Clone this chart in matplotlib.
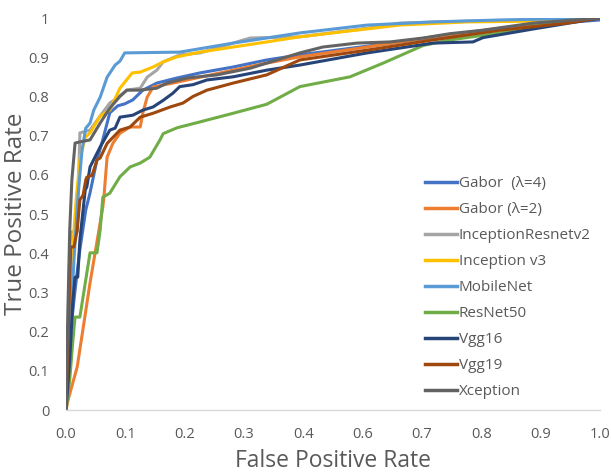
import matplotlib
matplotlib.use("Agg")
import matplotlib.pyplot as plt
import numpy as np

plt.rcParams["font.family"] = ["Open Sans", "DejaVu Sans"]

GREY_TEXT = "#595959"

# ROC curves (fpr, tpr)
gabor4_fpr = [0.000, 0.007, 0.017, 0.026, 0.037, 0.045, 0.049, 0.058, 0.069, 0.082, 0.097, 0.110, 0.125, 0.144, 0.170, 0.208, 0.251, 0.313, 0.376, 0.438, 0.625, 0.751, 0.875, 1.000]
gabor4_tpr = [0.000, 0.179, 0.306, 0.409, 0.510, 0.554, 0.580, 0.638, 0.690, 0.758, 0.776, 0.781, 0.791, 0.816, 0.834, 0.847, 0.860, 0.875, 0.893, 0.906, 0.939, 0.962, 0.982, 0.995]

gabor2_fpr = [0.000, 0.004, 0.021, 0.045, 0.069, 0.071, 0.077, 0.088, 0.101, 0.120, 0.139, 0.144, 0.152, 0.163, 0.200, 0.251, 0.313, 0.376, 0.438, 0.564, 0.687, 0.813, 0.938, 1.000]
gabor2_tpr = [0.000, 0.026, 0.110, 0.324, 0.518, 0.543, 0.645, 0.681, 0.706, 0.722, 0.722, 0.758, 0.798, 0.824, 0.834, 0.849, 0.867, 0.885, 0.901, 0.926, 0.952, 0.974, 0.990, 1.000]

incres_fpr = [0.000, 0.007, 0.009, 0.021, 0.026, 0.045, 0.064, 0.082, 0.096, 0.114, 0.139, 0.152, 0.170, 0.182, 0.213, 0.251, 0.313, 0.345, 0.438, 0.564, 0.625, 0.751, 0.875, 1.000]
incres_tpr = [0.000, 0.400, 0.454, 0.454, 0.707, 0.714, 0.750, 0.783, 0.796, 0.816, 0.821, 0.849, 0.867, 0.888, 0.906, 0.911, 0.936, 0.949, 0.952, 0.974, 0.987, 0.992, 0.995, 1.000]

incv3_fpr = [0.000, 0.006, 0.011, 0.019, 0.026, 0.036, 0.045, 0.064, 0.082, 0.101, 0.124, 0.139, 0.163, 0.182, 0.208, 0.251, 0.313, 0.376, 0.438, 0.500, 0.625, 0.751, 0.875, 1.000]
incv3_tpr = [0.000, 0.204, 0.383, 0.536, 0.638, 0.696, 0.707, 0.750, 0.765, 0.821, 0.860, 0.862, 0.875, 0.888, 0.901, 0.913, 0.926, 0.939, 0.952, 0.962, 0.982, 0.990, 0.992, 1.000]

mobile_fpr = [0.000, 0.004, 0.009, 0.015, 0.022, 0.030, 0.037, 0.045, 0.052, 0.064, 0.077, 0.092, 0.101, 0.110, 0.213, 0.313, 0.438, 0.564, 0.687, 0.813, 1.000]
mobile_tpr = [0.000, 0.102, 0.230, 0.383, 0.536, 0.663, 0.719, 0.732, 0.765, 0.798, 0.849, 0.880, 0.890, 0.911, 0.913, 0.936, 0.962, 0.982, 0.990, 0.995, 1.000]

resnet_fpr = [0.000, 0.007, 0.013, 0.017, 0.026, 0.034, 0.045, 0.058, 0.064, 0.069, 0.082, 0.101, 0.120, 0.139, 0.157, 0.176, 0.182, 0.208, 0.251, 0.313, 0.376, 0.438, 0.532, 0.594, 0.669, 0.719, 0.813, 0.906, 1.000]
resnet_tpr = [0.000, 0.077, 0.179, 0.237, 0.237, 0.306, 0.401, 0.401, 0.459, 0.543, 0.553, 0.595, 0.620, 0.630, 0.645, 0.689, 0.705, 0.720, 0.735, 0.757, 0.780, 0.825, 0.850, 0.885, 0.930, 0.944, 0.962, 0.987, 1.000]

vgg16_fpr = [0.000, 0.007, 0.013, 0.017, 0.022, 0.026, 0.032, 0.036, 0.039, 0.045, 0.064, 0.082, 0.092, 0.101, 0.125, 0.144, 0.163, 0.182, 0.200, 0.213, 0.238, 0.264, 0.313, 0.376, 0.438, 0.564, 0.687, 0.762, 0.781, 0.875, 1.000]
vgg16_tpr = [0.000, 0.128, 0.281, 0.339, 0.339, 0.434, 0.510, 0.561, 0.569, 0.620, 0.671, 0.714, 0.719, 0.747, 0.752, 0.765, 0.773, 0.790, 0.808, 0.825, 0.830, 0.842, 0.850, 0.867, 0.880, 0.911, 0.936, 0.939, 0.950, 0.972, 1.000]

vgg19_fpr = [0.000, 0.004, 0.007, 0.009, 0.015, 0.021, 0.026, 0.032, 0.037, 0.039, 0.049, 0.058, 0.064, 0.077, 0.101, 0.120, 0.139, 0.163, 0.195, 0.219, 0.238, 0.264, 0.313, 0.376, 0.438, 0.564, 0.687, 0.813, 0.938, 1.000]
vgg19_tpr = [0.000, 0.179, 0.332, 0.416, 0.416, 0.459, 0.536, 0.548, 0.587, 0.594, 0.599, 0.638, 0.643, 0.680, 0.714, 0.722, 0.747, 0.757, 0.773, 0.783, 0.800, 0.816, 0.834, 0.855, 0.893, 0.918, 0.944, 0.969, 0.987, 1.000]

xcept_fpr = [0.000, 0.004, 0.007, 0.011, 0.017, 0.026, 0.045, 0.064, 0.082, 0.101, 0.114, 0.139, 0.170, 0.189, 0.227, 0.283, 0.345, 0.438, 0.481, 0.545, 0.607, 0.669, 0.719, 0.781, 0.875, 1.000]
xcept_tpr = [0.000, 0.281, 0.459, 0.587, 0.681, 0.684, 0.689, 0.732, 0.770, 0.800, 0.816, 0.816, 0.821, 0.834, 0.847, 0.855, 0.872, 0.911, 0.926, 0.936, 0.939, 0.949, 0.960, 0.969, 0.987, 1.000]

SERIES = [
    ("Gabor  (\u03bb=4)", gabor4_fpr, gabor4_tpr, "#4472C4"),
    ("Gabor (\u03bb=2)", gabor2_fpr, gabor2_tpr, "#ED7D31"),
    ("InceptionResnetv2", incres_fpr, incres_tpr, "#A5A5A5"),
    ("Inception v3", incv3_fpr, incv3_tpr, "#FFC000"),
    ("MobileNet", mobile_fpr, mobile_tpr, "#5B9BD5"),
    ("ResNet50", resnet_fpr, resnet_tpr, "#70AD47"),
    ("Vgg16", vgg16_fpr, vgg16_tpr, "#264478"),
    ("Vgg19", vgg19_fpr, vgg19_tpr, "#9E480E"),
    ("Xception", xcept_fpr, xcept_tpr, "#636363"),
]

x_tick_labels = ["0.0", "0.1", "0.2", "0.3", "0.4", "0.6", "0.7", "0.8", "0.9", "1.0"]
y_ticks = [0, 0.1, 0.2, 0.3, 0.4, 0.5, 0.6, 0.7, 0.8, 0.9, 1]
y_tick_labels = ["0", "0.1", "0.2", "0.3", "0.4", "0.5", "0.6", "0.7", "0.8", "0.9", "1"]


def main():
    fig = plt.figure(figsize=(6.11, 4.74), dpi=100)
    ax = fig.add_axes([0.108, 0.135, 0.874, 0.827])

    for label, fpr, tpr, color in SERIES:
        ax.plot(fpr, tpr, color=color, lw=2.2, label=label, solid_joinstyle="round")

    ax.set_xlim(0, 1)
    ax.set_ylim(0, 1)
    ax.set_xticks(np.linspace(0, 1, len(x_tick_labels)))
    ax.set_xticklabels(x_tick_labels)
    ax.set_yticks(y_ticks)
    ax.set_yticklabels(y_tick_labels)
    ax.tick_params(axis="x", length=0, labelsize=10.5, labelcolor=GREY_TEXT, pad=12)
    ax.tick_params(axis="y", length=0, labelsize=10.5, labelcolor=GREY_TEXT, pad=12)

    for side in ["top", "right", "left"]:
        ax.spines[side].set_visible(False)
    ax.spines["bottom"].set_color("#D9D9D9")
    ax.spines["bottom"].set_linewidth(1.0)

    ax.set_xlabel("False Positive Rate", fontsize=16.5, color=GREY_TEXT, labelpad=5)
    ax.set_ylabel("True Positive Rate", fontsize=17.5, color=GREY_TEXT, labelpad=0)

    leg = ax.legend(loc="upper left", bbox_to_anchor=(0.66, 0.612), frameon=False,
                    fontsize=11, handlelength=2.1, handletextpad=0.15,
                    labelspacing=0.72, borderaxespad=0)
    for text in leg.get_texts():
        text.set_color(GREY_TEXT)
    for line in leg.get_lines():
        line.set_linewidth(2.5)

    fig.savefig("out.png", dpi=100)
    plt.close(fig)


if __name__ == "__main__":
    main()
